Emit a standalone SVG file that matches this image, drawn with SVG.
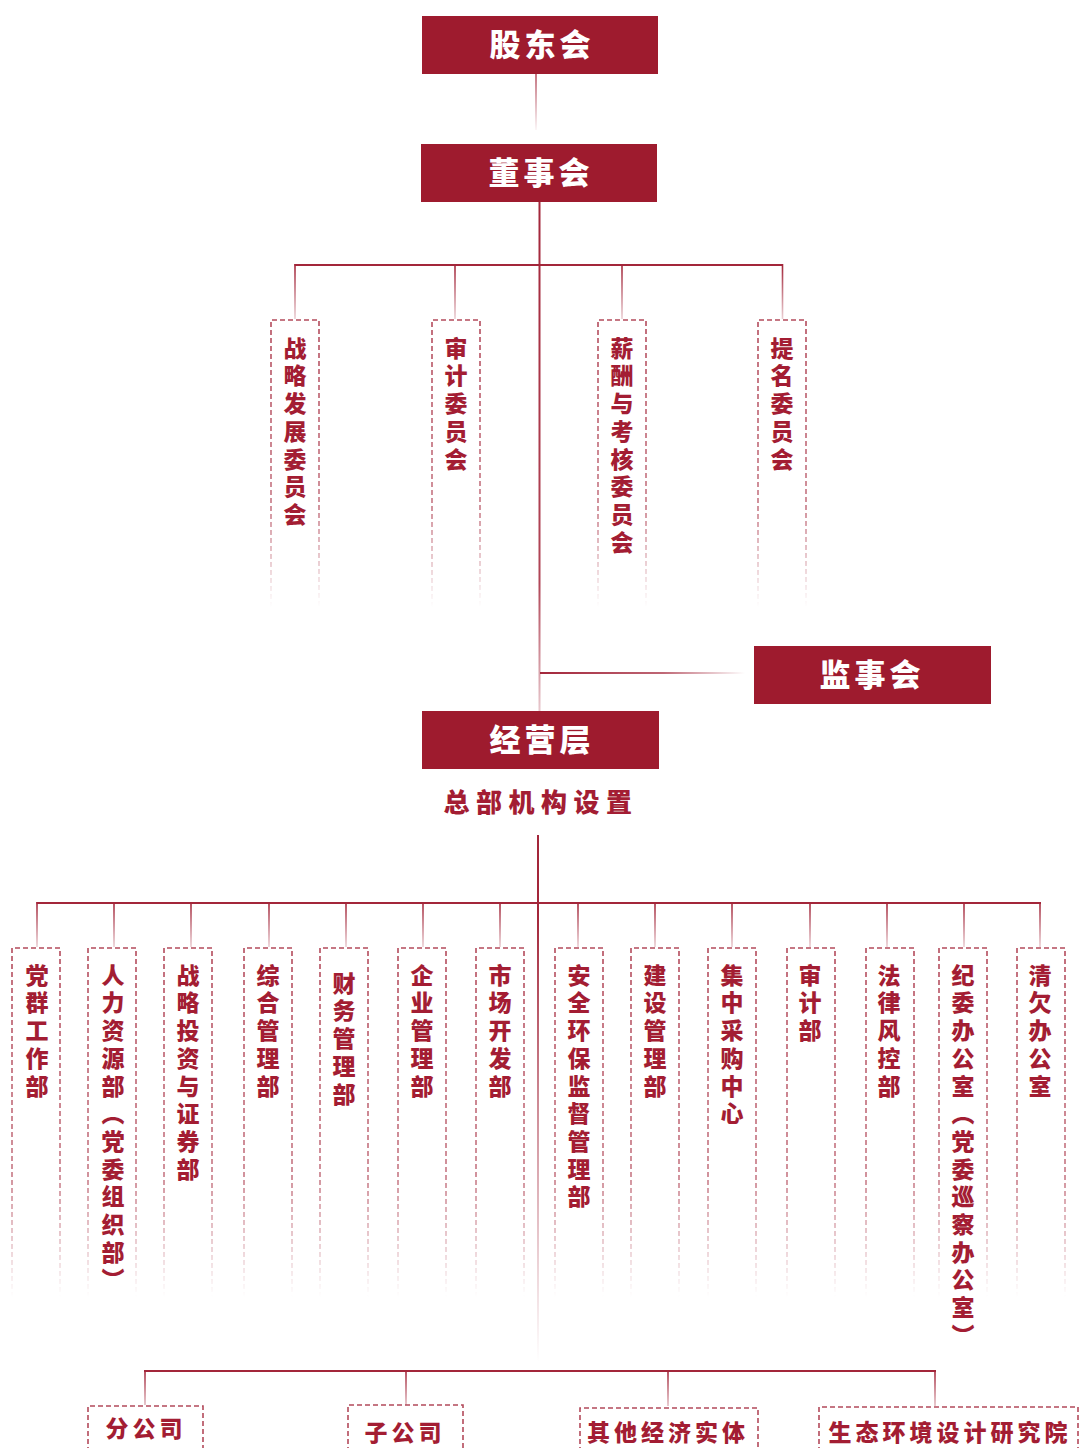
<svg xmlns="http://www.w3.org/2000/svg" width="1080" height="1448" viewBox="0 0 1080 1448">
<defs>
<style>
.box{fill:#9e1b2e}
.bt{fill:#fff;font-family:"Noto Sans CJK SC","Noto Sans",sans-serif;font-weight:900;font-size:31px;letter-spacing:4px;text-anchor:middle}
.vt{fill:#a31d33;font-family:"Noto Sans CJK SC","Noto Sans",sans-serif;font-weight:900;font-size:23px;letter-spacing:4.7px;writing-mode:vertical-rl;text-orientation:upright}
.ht{fill:#a31d33;font-family:"Noto Sans CJK SC","Noto Sans",sans-serif;font-weight:900;font-size:23px;letter-spacing:4px;text-anchor:middle}
.title{fill:#a31d33;font-family:"Noto Sans CJK SC","Noto Sans",sans-serif;font-weight:900;font-size:26px;letter-spacing:6.5px;text-anchor:middle}
.dash{fill:none;stroke:url(#fadeV);stroke-width:1.6;stroke-dasharray:5 3}
.dashB{fill:none;stroke:#b34a5b;stroke-width:1.6;stroke-dasharray:5 3}
.ln{stroke:#a3263a;stroke-width:2;fill:none}
</style>
<linearGradient id="fadeV" x1="0" y1="0" x2="0" y2="1">
<stop offset="0" stop-color="#b34a5b" stop-opacity="1"/>
<stop offset="0.65" stop-color="#b34a5b" stop-opacity="0.75"/>
<stop offset="1" stop-color="#b34a5b" stop-opacity="0"/>
</linearGradient>
<linearGradient id="g0" gradientUnits="userSpaceOnUse" x1="0" y1="74" x2="0" y2="130">
<stop offset="0" stop-color="#a3263a" stop-opacity="0.8"/>
<stop offset="1" stop-color="#a3263a" stop-opacity="0.05"/>
</linearGradient>
<linearGradient id="g1" gradientUnits="userSpaceOnUse" x1="0" y1="202" x2="0" y2="711">
<stop offset="0" stop-color="#a3263a" stop-opacity="1"/>
<stop offset="0.75" stop-color="#a3263a" stop-opacity="0.85"/>
<stop offset="1" stop-color="#a3263a" stop-opacity="0.25"/>
</linearGradient>
<linearGradient id="g2" gradientUnits="userSpaceOnUse" x1="0" y1="265" x2="0" y2="320">
<stop offset="0" stop-color="#a3263a" stop-opacity="1"/>
<stop offset="1" stop-color="#a3263a" stop-opacity="0.2"/>
</linearGradient>
<linearGradient id="g3" gradientUnits="userSpaceOnUse" x1="540" y1="0" x2="745" y2="0">
<stop offset="0" stop-color="#a3263a" stop-opacity="1"/>
<stop offset="0.6" stop-color="#a3263a" stop-opacity="0.7"/>
<stop offset="1" stop-color="#a3263a" stop-opacity="0"/>
</linearGradient>
<linearGradient id="g4" gradientUnits="userSpaceOnUse" x1="0" y1="835" x2="0" y2="1362">
<stop offset="0" stop-color="#a3263a" stop-opacity="1"/>
<stop offset="0.15" stop-color="#a3263a" stop-opacity="1"/>
<stop offset="0.5" stop-color="#a3263a" stop-opacity="0.55"/>
<stop offset="1" stop-color="#a3263a" stop-opacity="0"/>
</linearGradient>
<linearGradient id="g5" gradientUnits="userSpaceOnUse" x1="0" y1="903" x2="0" y2="948">
<stop offset="0" stop-color="#a3263a" stop-opacity="1"/>
<stop offset="1" stop-color="#a3263a" stop-opacity="0.2"/>
</linearGradient>
<linearGradient id="g6" gradientUnits="userSpaceOnUse" x1="0" y1="1371" x2="0" y2="1406">
<stop offset="0" stop-color="#a3263a" stop-opacity="1"/>
<stop offset="1" stop-color="#a3263a" stop-opacity="0.3"/>
</linearGradient>
</defs>
<rect width="1080" height="1448" fill="#fff"/>

<g id="connectors">
<line x1="536" y1="74" x2="536" y2="130" stroke="url(#g0)" stroke-width="1.6"/>
<line x1="539.5" y1="202" x2="539.5" y2="711" stroke="url(#g1)" stroke-width="2"/>
<line class="ln" x1="294.5" y1="265" x2="783" y2="265"/>
<g stroke="url(#g2)" stroke-width="1.6">
<line x1="295" y1="264" x2="295" y2="319"/>
<line x1="455" y1="264" x2="455" y2="319"/>
<line x1="622" y1="264" x2="622" y2="319"/>
<line x1="782.5" y1="264" x2="782.5" y2="319"/>
</g>
<line x1="540" y1="673" x2="745" y2="673" stroke="url(#g3)" stroke-width="2"/>
<line x1="538" y1="835" x2="538" y2="1362" stroke="url(#g4)" stroke-width="2"/>
<line class="ln" x1="36.5" y1="903" x2="1041" y2="903"/>
<g stroke="url(#g5)" stroke-width="1.6">
<line x1="37" y1="902" x2="37" y2="947"/>
<line x1="114" y1="902" x2="114" y2="947"/>
<line x1="191" y1="902" x2="191" y2="947"/>
<line x1="269" y1="902" x2="269" y2="947"/>
<line x1="346" y1="902" x2="346" y2="947"/>
<line x1="423" y1="902" x2="423" y2="947"/>
<line x1="500" y1="902" x2="500" y2="947"/>
<line x1="578" y1="902" x2="578" y2="947"/>
<line x1="655" y1="902" x2="655" y2="947"/>
<line x1="732" y1="902" x2="732" y2="947"/>
<line x1="810" y1="902" x2="810" y2="947"/>
<line x1="887" y1="902" x2="887" y2="947"/>
<line x1="964" y1="902" x2="964" y2="947"/>
<line x1="1040" y1="902" x2="1040" y2="947"/>
</g>
<line class="ln" x1="144" y1="1371" x2="936" y2="1371" stroke-width="2.5"/>
<g stroke="url(#g6)" stroke-width="1.6">
<line x1="145" y1="1370" x2="145" y2="1405"/>
<line x1="406" y1="1370" x2="406" y2="1405"/>
<line x1="668" y1="1370" x2="668" y2="1406"/>
<line x1="935" y1="1370" x2="935" y2="1406"/>
</g>
</g>

<g id="n-gudong"><rect class="box" x="422" y="16" width="236" height="58"/><text class="bt" x="542" y="56">股东会</text></g>
<g id="n-dongshi"><rect class="box" x="421" y="144" width="236" height="58"/><text class="bt" x="541" y="184">董事会</text></g>
<g id="n-jianshi"><rect class="box" x="754" y="646" width="237" height="58"/><text class="bt" x="872" y="686">监事会</text></g>
<g id="n-jingying"><rect class="box" x="422" y="711" width="237" height="58"/><text class="bt" x="542" y="751">经营层</text></g>
<g id="n-title"><text class="title" x="541" y="812">总部机构设置</text></g>

<g id="c1"><path class="dash" d="M271 607V320H319V607"/><text class="vt" x="295" y="336.5">战略发展委员会</text></g>
<g id="c2"><path class="dash" d="M432 607V320H480V607"/><text class="vt" x="456" y="336.5">审计委员会</text></g>
<g id="c3"><path class="dash" d="M598 607V320H646V607"/><text class="vt" x="622" y="336.5">薪酬与考核委员会</text></g>
<g id="c4"><path class="dash" d="M758 607V320H806V607"/><text class="vt" x="782" y="336.5">提名委员会</text></g>

<g id="d1"><path class="dash" d="M12 1297V948H60V1297"/><text class="vt" x="37" y="963.5">党群工作部</text></g>
<g id="d2"><path class="dash" d="M88 1297V948H136V1297"/><text class="vt" x="113" y="963.5">人力资源部（党委组织部）</text></g>
<g id="d3"><path class="dash" d="M164 1297V948H212V1297"/><text class="vt" x="188" y="963.5">战略投资与证券部</text></g>
<g id="d4"><path class="dash" d="M244 1297V948H292V1297"/><text class="vt" x="268" y="963.5">综合管理部</text></g>
<g id="d5"><path class="dash" d="M320 1297V948H368V1297"/><text class="vt" x="344" y="971.5">财务管理部</text></g>
<g id="d6"><path class="dash" d="M398 1297V948H446V1297"/><text class="vt" x="422" y="963.5">企业管理部</text></g>
<g id="d7"><path class="dash" d="M476 1297V948H524V1297"/><text class="vt" x="500" y="963.5">市场开发部</text></g>
<g id="d8"><path class="dash" d="M555 1297V948H603V1297"/><text class="vt" x="579" y="963.5">安全环保监督管理部</text></g>
<g id="d9"><path class="dash" d="M631 1297V948H679V1297"/><text class="vt" x="655" y="963.5">建设管理部</text></g>
<g id="d10"><path class="dash" d="M708 1297V948H756V1297"/><text class="vt" x="732" y="963.5">集中采购中心</text></g>
<g id="d11"><path class="dash" d="M787 1297V948H835V1297"/><text class="vt" x="810" y="963.5">审计部</text></g>
<g id="d12"><path class="dash" d="M866 1297V948H914V1297"/><text class="vt" x="889" y="963.5">法律风控部</text></g>
<g id="d13"><path class="dash" d="M939 1297V948H987V1297"/><text class="vt" x="963" y="963.5">纪委办公室（党委巡察办公室）</text></g>
<g id="d14"><path class="dash" d="M1017 1297V948H1065V1297"/><text class="vt" x="1040" y="963.5">清欠办公室</text></g>

<g id="b1"><path class="dashB" d="M88 1460V1406H203V1460"/><text class="ht" x="146" y="1437">分公司</text></g>
<g id="b2"><path class="dashB" d="M348 1460V1405H463V1460"/><text class="ht" x="405" y="1441">子公司</text></g>
<g id="b3"><path class="dashB" d="M580 1460V1408H758V1460"/><text class="ht" x="668" y="1441">其他经济实体</text></g>
<g id="b4"><path class="dashB" d="M819 1460V1407H1078V1460"/><text class="ht" x="950" y="1441">生态环境设计研究院</text></g>
</svg>
